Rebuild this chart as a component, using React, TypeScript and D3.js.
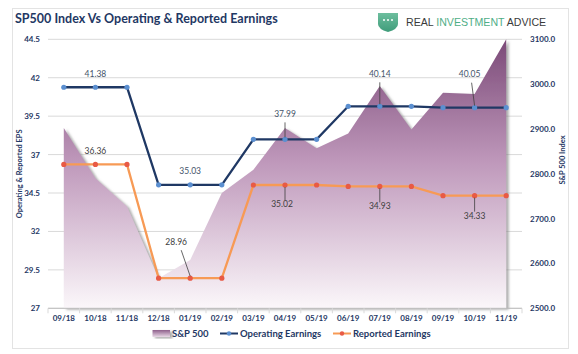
import React from "react";
import * as d3 from "d3";

const categories = ["09/18","10/18","11/18","12/18","01/19","02/19","03/19","04/19","05/19","06/19","07/19","08/19","09/19","10/19","11/19"];
const sp500 = [2902, 2790, 2727, 2567, 2608, 2757, 2809, 2902, 2857, 2890, 2996, 2899, 2981, 2978, 3100];
const operating = [41.38, 41.38, 41.38, 35.03, 35.03, 35.03, 37.99, 37.99, 37.99, 40.14, 40.14, 40.14, 40.05, 40.05, 40.05];
const reported = [36.36, 36.36, 36.36, 28.96, 28.96, 28.96, 35.02, 35.02, 35.02, 34.93, 34.93, 34.93, 34.33, 34.33, 34.33];
const leftTicks = [27, 29.5, 32, 34.5, 37, 39.5, 42, 44.5];
const rightTicks = [2500, 2600, 2700, 2800, 2900, 3000, 3100];
// labels: [series, index]
const opLabels = [1, 4, 7, 10, 13];
const repLabels = [1, 4, 7, 10, 13];

const W = 578, H = 354;
const plotL = 48, plotR = 522, plotT = 39.3, plotB = 308.3;
const NAVY = "#1F3864";
const FONT = "Lato, 'Open Sans', sans-serif";

export default function App() {
  const x = d3.scaleBand<string>().domain(categories).range([plotL, plotR]);
  const cx = (i: number) => (x(categories[i]) as number) + x.bandwidth() / 2;
  const yL = d3.scaleLinear().domain([27, 44.5]).range([plotB, plotT]);
  const yR = d3.scaleLinear().domain([2500, 3100]).range([plotB, plotT]);

  const area = d3.area<number>().x((_, i) => cx(i)).y0(plotB).y1((d) => yR(d));
  const lineL = d3.line<number>().x((_, i) => cx(i)).y((d) => yL(d));

  const opLabelPos: Record<number, { dx: number; dy: number; leader?: [number, number, number, number] }> = {
    1: { dx: 0, dy: -10 },
    4: { dx: 0, dy: -11 },
    7: { dx: 0, dy: -22, leader: [0, -17, 0, -2] },
    10: { dx: 0, dy: -29, leader: [0, -24, 0, -2] },
    13: { dx: -5, dy: -31, leader: [-3, -25, 0, -2] },
  };
  const repLabelPos: Record<number, { dx: number; dy: number; leader?: [number, number, number, number] }> = {
    1: { dx: 0, dy: -10 },
    4: { dx: -14, dy: -33, leader: [-9, -28, 0, -2] },
    7: { dx: -3, dy: 22, leader: [0, 2, 0, 15] },
    10: { dx: 0, dy: 23, leader: [0, 2, 0, 16] },
    13: { dx: 0, dy: 23, leader: [0, 2, 0, 16] },
  };

  return (
    <svg width={W} height={H} style={{ position: "absolute", left: 0, top: 0, background: "#fff" }}>
      <defs>
        <linearGradient id="areaGrad" gradientUnits="userSpaceOnUse" x1="0" y1={plotT} x2="0" y2={plotB}>
          <stop offset="0" stopColor="#7B4A78" />
          <stop offset="0.45" stopColor="#BE97BA" />
          <stop offset="1" stopColor="#FBF7FA" />
        </linearGradient>
        <linearGradient id="legGrad" x1="0" y1="0" x2="0" y2="1">
          <stop offset="0" stopColor="#8E5F8B" />
          <stop offset="1" stopColor="#E9D9E7" />
        </linearGradient>
        <linearGradient id="logoGrad" x1="0" y1="0" x2="0" y2="1">
          <stop offset="0" stopColor="#6DBE9E" />
          <stop offset="1" stopColor="#3F9C7A" />
        </linearGradient>
        <filter id="shadow" x="-10%" y="-10%" width="130%" height="130%">
          <feDropShadow dx="2.5" dy="1.5" stdDeviation="1.2" floodColor="#777" floodOpacity="0.6" />
        </filter>
      </defs>
      <rect x={12.5} y={8.5} width={556} height={340} fill="#fff" stroke="#E3E3E3" />

      {/* title */}
      <text x={15} y={23} fontFamily={FONT} fontWeight="bold" fontSize={12.5} fill={NAVY}>
        SP500 Index Vs Operating &amp; Reported Earnings
      </text>

      {/* logo */}
      <path d="M378,13 L398,13 L398,24 Q398,29 388,32 Q378,29 378,24 Z" fill="url(#logoGrad)" />
      {[384, 388, 392].map((px) => (
        <circle key={px} cx={px} cy={20} r={1} fill="#fff" />
      ))}
      <text x={406} y={26} fontFamily="'Liberation Sans', Arial, sans-serif" fontSize={10.6} fill="#3A3A3A">
        REAL <tspan fill="#4FAE87">INVESTMENT</tspan> ADVICE
      </text>

      {/* gridlines */}
      {leftTicks.map((t) => (
        <line key={t} x1={plotL} x2={plotR} y1={yL(t)} y2={yL(t)} stroke="#D9D9D9" strokeWidth={1} />
      ))}

      {/* area */}
      <path d={area(sp500) as string} fill="url(#areaGrad)" filter="url(#shadow)" />

      {/* x axis */}
      <line x1={plotL} x2={plotR} y1={plotB} y2={plotB} stroke="#BFBFBF" />
      {d3.range(categories.length + 1).map((i) => {
        const px = plotL + i * x.bandwidth();
        return <line key={i} x1={px} x2={px} y1={plotB} y2={plotB + 5} stroke="#D9D9D9" />;
      })}
      {categories.map((c, i) => (
        <text key={c} x={cx(i)} y={320.5} textAnchor="middle" fontFamily={FONT} fontWeight="bold" fontSize={8} fill={NAVY}>
          {c}
        </text>
      ))}

      {/* left ticks */}
      {leftTicks.map((t) => (
        <text key={t} x={40} y={yL(t) + 3} textAnchor="end" fontFamily={FONT} fontWeight="bold" fontSize={8} fill={NAVY}>
          {t}
        </text>
      ))}
      {/* right ticks */}
      {rightTicks.map((t) => (
        <text key={t} x={530} y={yR(t) + 3} textAnchor="start" fontFamily={FONT} fontWeight="bold" fontSize={8} fill={NAVY}>
          {t.toFixed(1)}
        </text>
      ))}

      {/* axis titles */}
      <text transform={`translate(22,${(plotT + plotB) / 2}) rotate(-90)`} textAnchor="middle" fontFamily={FONT} fontWeight="bold" fontSize={7.5} fill={NAVY}>
        Operating &amp; Reported EPS
      </text>
      <text transform={`translate(565,160) rotate(-90)`} textAnchor="middle" fontFamily={FONT} fontWeight="bold" fontSize={7.5} fill={NAVY}>
        S&amp;P 500 Index
      </text>

      {/* lines */}
      <path d={lineL(reported) as string} fill="none" stroke="#F79A55" strokeWidth={2.3} />
      {reported.map((v, i) => (
        <circle key={i} cx={cx(i)} cy={yL(v)} r={2.6} fill="#E85A45" />
      ))}
      <path d={lineL(operating) as string} fill="none" stroke={NAVY} strokeWidth={2.3} />
      {operating.map((v, i) => (
        <circle key={i} cx={cx(i)} cy={yL(v)} r={2.6} fill="#5B8FD0" />
      ))}

      {/* data labels */}
      {opLabels.map((i) => {
        const p = opLabelPos[i];
        const px = cx(i), py = yL(operating[i]);
        return (
          <g key={"o" + i}>
            {p.leader && (
              <line x1={px + p.leader[0]} y1={py + p.leader[1]} x2={px + p.leader[2]} y2={py + p.leader[3]} stroke="#404040" strokeWidth={0.8} />
            )}
            <text x={px + p.dx} y={py + p.dy} textAnchor="middle" fontFamily={FONT} fontSize={8.5} fill="#44546A">
              {operating[i].toFixed(2)}
            </text>
          </g>
        );
      })}
      {repLabels.map((i) => {
        const p = repLabelPos[i];
        const px = cx(i), py = yL(reported[i]);
        return (
          <g key={"r" + i}>
            {p.leader && (
              <line x1={px + p.leader[0]} y1={py + p.leader[1]} x2={px + p.leader[2]} y2={py + p.leader[3]} stroke="#404040" strokeWidth={0.8} />
            )}
            <text x={px + p.dx} y={py + p.dy} textAnchor="middle" fontFamily={FONT} fontSize={8.5} fill="#404040">
              {reported[i].toFixed(2)}
            </text>
          </g>
        );
      })}

      {/* legend */}
      <rect x={152.5} y={330} width={17.5} height={7} fill="url(#legGrad)" filter="url(#shadow)" />
      <text x={172} y={337} fontFamily={FONT} fontWeight="bold" fontSize={9.5} fill={NAVY}>S&amp;P 500</text>
      <line x1={220} x2={238} y1={333.5} y2={333.5} stroke={NAVY} strokeWidth={2} />
      <circle cx={229} cy={333.5} r={2.2} fill="#5B8FD0" />
      <text x={240} y={337} fontFamily={FONT} fontWeight="bold" fontSize={9.5} fill={NAVY}>Operating Earnings</text>
      <line x1={333} x2={351} y1={333.5} y2={333.5} stroke="#F79A55" strokeWidth={2} />
      <circle cx={342} cy={333.5} r={2.2} fill="#E85A45" />
      <text x={353} y={337} fontFamily={FONT} fontWeight="bold" fontSize={9.5} fill={NAVY}>Reported Earnings</text>
    </svg>
  );
}
